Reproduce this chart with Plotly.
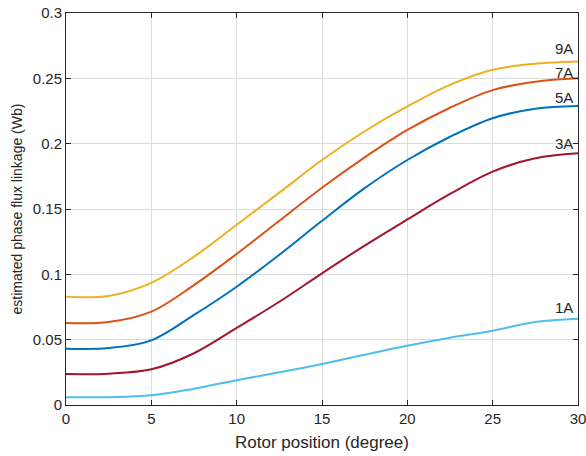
import plotly.graph_objects as go

rotor_pos = [0, 2.5, 5, 7.5, 10, 12.5, 15, 17.5, 20, 22.5, 25, 27.5, 30]
flux_1A = [0.0059, 0.0060, 0.0074, 0.0125, 0.0190, 0.0250, 0.0314, 0.0385, 0.0454, 0.0515, 0.0569, 0.0635, 0.0660]
flux_3A = [0.0237, 0.0240, 0.0273, 0.0396, 0.0590, 0.0790, 0.1008, 0.1220, 0.1420, 0.1615, 0.1786, 0.1888, 0.1926]
flux_5A = [0.0431, 0.0436, 0.0495, 0.0689, 0.0905, 0.1150, 0.1410, 0.1660, 0.1875, 0.2053, 0.2195, 0.2268, 0.2288]
flux_7A = [0.0628, 0.0635, 0.0714, 0.0918, 0.1156, 0.1410, 0.1663, 0.1895, 0.2105, 0.2275, 0.2410, 0.2474, 0.2500]
flux_9A = [0.0828, 0.0835, 0.0935, 0.1135, 0.1380, 0.1625, 0.1875, 0.2095, 0.2285, 0.2450, 0.2565, 0.2612, 0.2628]

series = [
    ("1A", flux_1A, "#4DBEEE", 0.0745),
    ("3A", flux_3A, "#A2142F", 0.2005),
    ("5A", flux_5A, "#0072BD", 0.2355),
    ("7A", flux_7A, "#D95319", 0.2545),
    ("9A", flux_9A, "#EDB120", 0.2725),
]

fig = go.Figure()
for name, ys, col, ly in series:
    fig.add_trace(go.Scatter(x=rotor_pos, y=ys, mode="lines", name=name,
                             line=dict(color=col, width=2, shape="spline", smoothing=1.0)))
    fig.add_annotation(x=29.85, y=ly, text=name, showarrow=False, xanchor="right",
                       yanchor="middle", font=dict(size=15, color="#262626"))

axis_common = dict(showline=True, linecolor="#262626", linewidth=1, mirror="ticks",
                   ticks="inside", ticklen=5, tickcolor="#262626",
                   showgrid=True, gridcolor="#dcdcdc", gridwidth=1, zeroline=False,
                   automargin=False, ticklabeloverflow="allow",
                   tickfont=dict(size=15, color="#262626"))

fig.update_layout(
    width=586, height=456,
    margin=dict(l=66, r=8, t=13, b=51),
    paper_bgcolor="white", plot_bgcolor="white",
    showlegend=False,
    font=dict(family="Liberation Sans, Arial, sans-serif", color="#262626"),
    xaxis=dict(range=[0, 30], dtick=5, tick0=0,
               title=dict(text="Rotor position (degree)", font=dict(size=17), standoff=10),
               **axis_common),
    yaxis=dict(range=[0, 0.3], dtick=0.05, tick0=0,
               title=dict(text="estimated phase flux linkage (Wb)", font=dict(size=14), standoff=6),
               **axis_common),
)

fig.write_html("out.html")
